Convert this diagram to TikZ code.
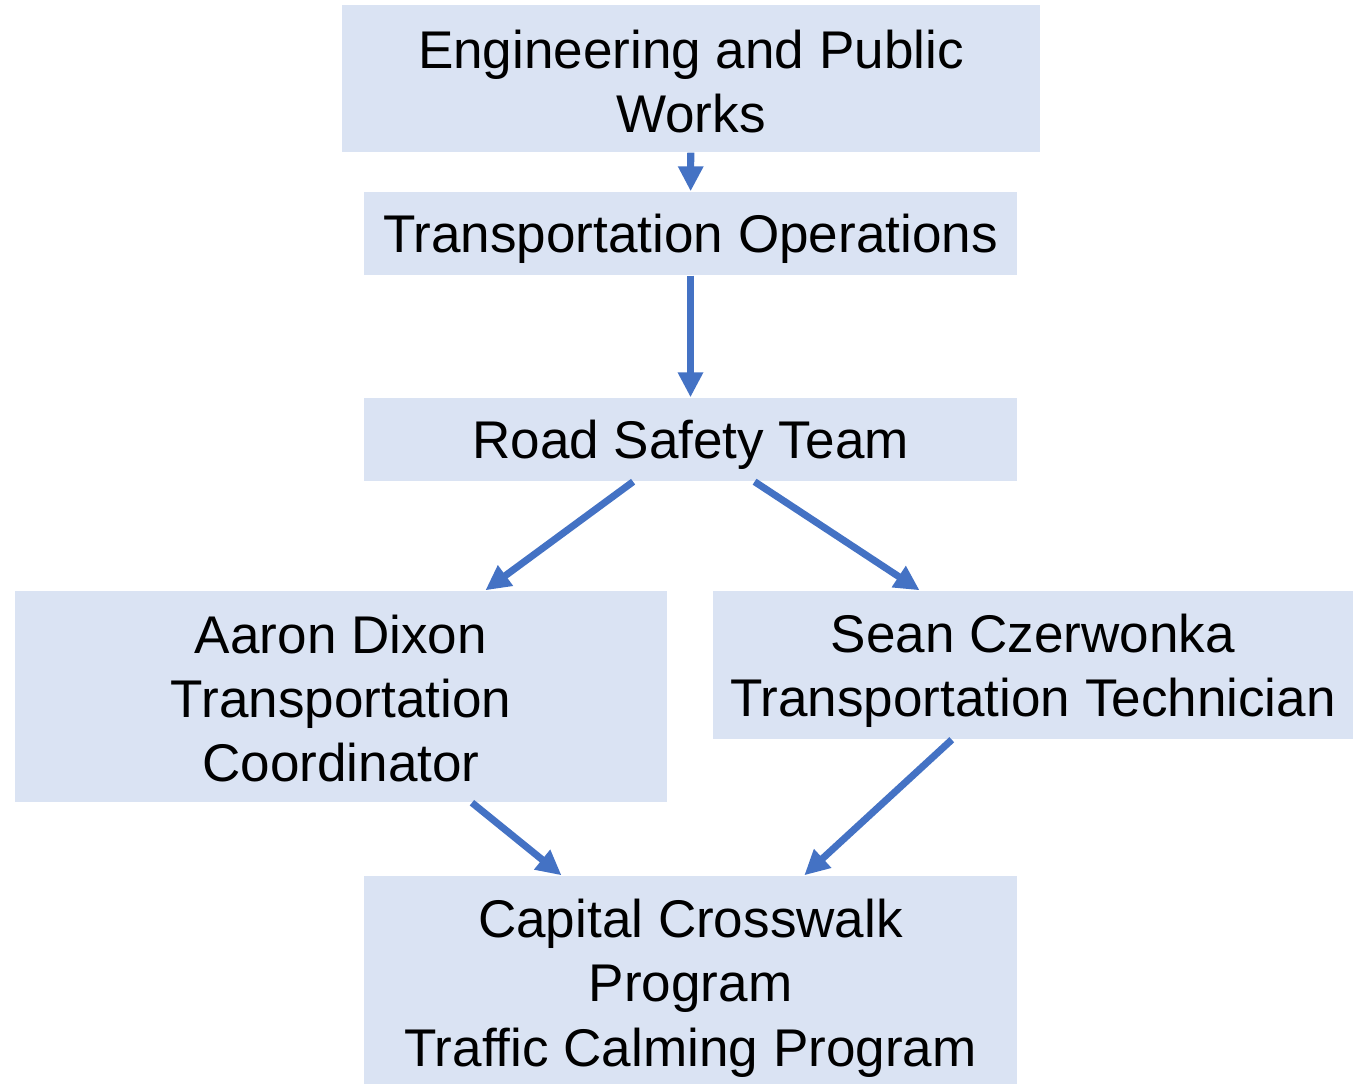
\documentclass[tikz,border=0pt]{standalone}
\usepackage{fontspec}
\setmainfont{Liberation Sans}
\usetikzlibrary{arrows.meta}

\definecolor{boxfill}{HTML}{DAE3F3}
\definecolor{linkblue}{HTML}{4472C4}

% invisible strut that pushes the first text line down
\newcommand{\topstrut}[1]{\rule{0pt}{#1}}

\tikzset{
    unitbox/.style={fill=boxfill, inner sep=0pt, align=center,
        font=\fontsize{15.1}{18.3}\selectfont},
    link/.style={draw=linkblue, line width=2pt,
        -{Triangle[length=0.25cm, width=0.24cm]}}
}

\begin{document}
\begin{tikzpicture}

    \useasboundingbox (0,0) rectangle (13.53,10.84);

    % Department and division
    \node[unitbox, minimum width=6.98cm, minimum height=1.47cm] (eng) at (6.91,10.055)
        {\topstrut{12.7pt}Engineering and Public\\Works};
    \node[unitbox, minimum width=6.53cm, minimum height=0.83cm] (ops) at (6.905,8.505)
        {\topstrut{13.8pt}Transportation Operations};

    % Team
    \node[unitbox, minimum width=6.53cm, minimum height=0.83cm] (road) at (6.905,6.445)
        {\topstrut{13.8pt}Road Safety Team};

    % Staff
    \node[unitbox, minimum width=6.52cm, minimum height=2.11cm] (aaron) at (3.41,3.875)
        {\topstrut{12pt}Aaron Dixon\\Transportation\\Coordinator};
    \node[unitbox, minimum width=6.40cm, minimum height=1.48cm] (sean) at (10.33,4.19)
        {\topstrut{14.4pt}Sean Czerwonka\\Transportation Technician};

    % Programs
    \node[unitbox, minimum width=6.53cm, minimum height=2.08cm] (prog) at (6.905,1.04)
        {\topstrut{15.5pt}Capital Crosswalk\\Program\\Traffic Calming Program};

    % Links
    \draw[link] (eng) -- (ops);
    \draw[link] (ops) -- (road);
    \draw[link] (road) -- (aaron);
    \draw[link] (road) -- (sean);
    \draw[link] (aaron) -- (prog);
    \draw[link] (sean) -- (prog);

\end{tikzpicture}
\end{document}
